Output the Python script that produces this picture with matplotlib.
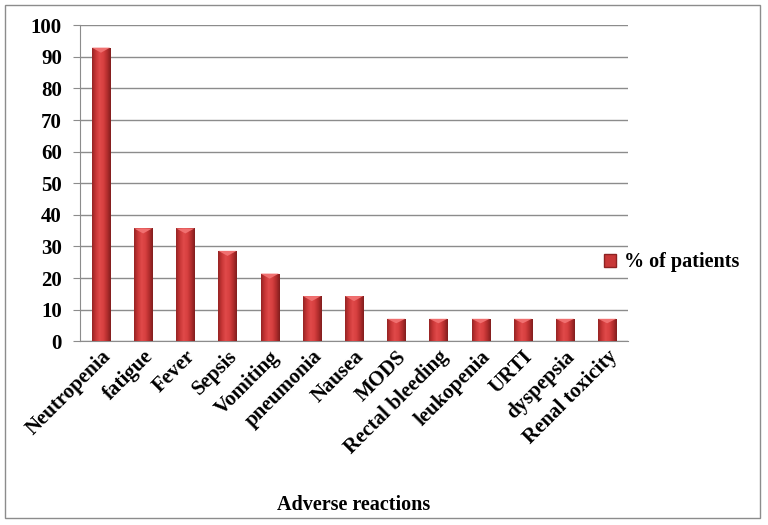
import numpy as np
import matplotlib.pyplot as plt
from matplotlib.colors import LinearSegmentedColormap
from matplotlib.patches import Rectangle

categories = ["Neutropenia", "fatigue", "Fever", "Sepsis", "Vomiting", "pneumonia",
              "Nausea", "MODS", "Rectal bleeding", "leukopenia", "URTI", "dyspepsia",
              "Renal toxicity"]
percent = [92.9, 35.7, 35.7, 28.6, 21.4, 14.3, 14.3, 7.1, 7.1, 7.1, 7.1, 7.1, 7.1]
series_name = "% of patients"

plt.rcParams['font.family'] = ['Liberation Serif', 'DejaVu Serif']
plt.rcParams['font.weight'] = 'bold'

fig = plt.figure(figsize=(7.68, 5.25), dpi=100)
fig.patches.append(Rectangle((0.007, 0.013), 0.983, 0.978, transform=fig.transFigure,
                             fill=False, edgecolor='#8c8c8c', linewidth=1.0))
ax = fig.add_axes([0.104, 0.350, 0.714, 0.602])

# cylinder-ish shading, dark edges and lighter centre
shade = LinearSegmentedColormap.from_list(
    "bar", ["#962424", "#c83636", "#e04a4a", "#d84040", "#b42e2e", "#821e1e"])
grad = np.linspace(0, 1, 64).reshape(1, -1)

x = np.arange(len(categories))
bars = ax.bar(x, percent, width=0.43, color='#cc3b3b', edgecolor='none', zorder=2)
for b in bars:
    x0, w, h = b.get_x(), b.get_width(), b.get_height()
    im = ax.imshow(grad, cmap=shade, extent=[x0, x0 + w, 0, h], aspect='auto',
                   origin='lower', zorder=3)
    im.set_clip_path(b)
    # small lighter cap on top
    cap = h - min(1.6, h * 0.2)
    ax.fill([x0, x0 + w, x0 + w / 2], [h, h, cap], color='#f07070', zorder=4,
            linewidth=0)

ax.set_xlim(-0.5, len(categories) - 0.5)
ax.set_ylim(0, 100)
ax.set_yticks(range(0, 101, 10))
ax.yaxis.grid(True, color='#8c8c8c', linewidth=1.0, zorder=0)
ax.set_axisbelow(True)
for s in ['top', 'right']:
    ax.spines[s].set_visible(False)
ax.spines['left'].set_color('#8c8c8c')
ax.spines['bottom'].set_color('#8c8c8c')
ax.tick_params(axis='y', length=5, color='#8c8c8c', labelsize=15, pad=8)
ax.tick_params(axis='x', length=0, labelsize=15, pad=4)
ax.set_xticks(x)
ax.set_xticklabels(categories, rotation=45, ha='right', rotation_mode='anchor')
ax.set_xlabel("Adverse reactions", fontsize=14.5, fontweight='bold')
ax.xaxis.set_label_coords(0.5, -0.487)

handle = Rectangle((0, 0), 1, 1, facecolor='#c83838', edgecolor='#8e2222')
ax.legend([handle], [series_name], loc='center left', bbox_to_anchor=(0.955, 0.25),
          frameon=False, fontsize=14.5, handlelength=0.6, handleheight=0.6,
          handletextpad=0.4, borderaxespad=0, borderpad=0)

plt.savefig("out.png", dpi=100)
